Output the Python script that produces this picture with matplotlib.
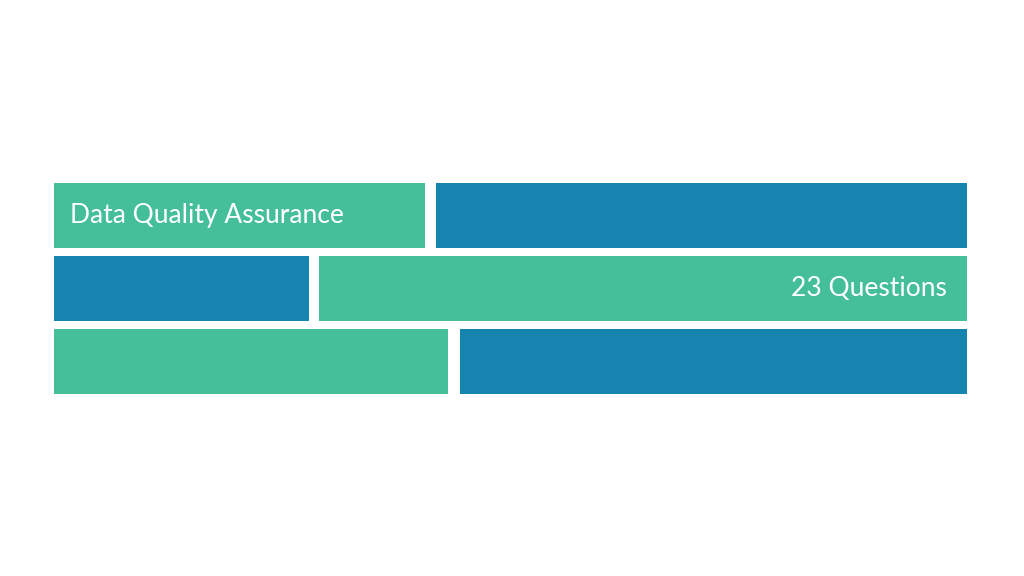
import matplotlib
matplotlib.use("Agg")
import matplotlib.pyplot as plt

rows = ["row1", "row2", "row3"]
left_widths = [371, 255, 394]
gap_starts = [436, 319, 460]
right_end = 967
left_colors = ["#45BE9A", "#1585B0", "#45BE9A"]
right_colors = ["#1585B0", "#45BE9A", "#1585B0"]
row_tops = [183, 256, 329]
row_height = 65
labels = {0: ("Data Quality Assurance", "left"), 1: ("23 Questions", "right")}

fig = plt.figure(figsize=(10.24, 5.76), dpi=100)
ax = fig.add_axes([0, 0, 1, 1])
ax.set_xlim(0, 1024)
ax.set_ylim(576, 0)
ax.axis("off")

x0 = 54
for i in range(len(rows)):
    ax.barh(row_tops[i], left_widths[i], left=x0, height=row_height, align="edge", color=left_colors[i])
    ax.barh(row_tops[i], right_end - gap_starts[i], left=gap_starts[i], height=row_height, align="edge", color=right_colors[i])

for i, (txt, side) in labels.items():
    yc = row_tops[i] + row_height / 2
    if side == "left":
        ax.text(x0 + 16, yc, txt, ha="left", va="center", color="white", fontsize=19, family="Lato")
    else:
        ax.text(right_end - 20, yc, txt, ha="right", va="center", color="white", fontsize=19, family="Lato")

fig.savefig("out.png", dpi=100)
